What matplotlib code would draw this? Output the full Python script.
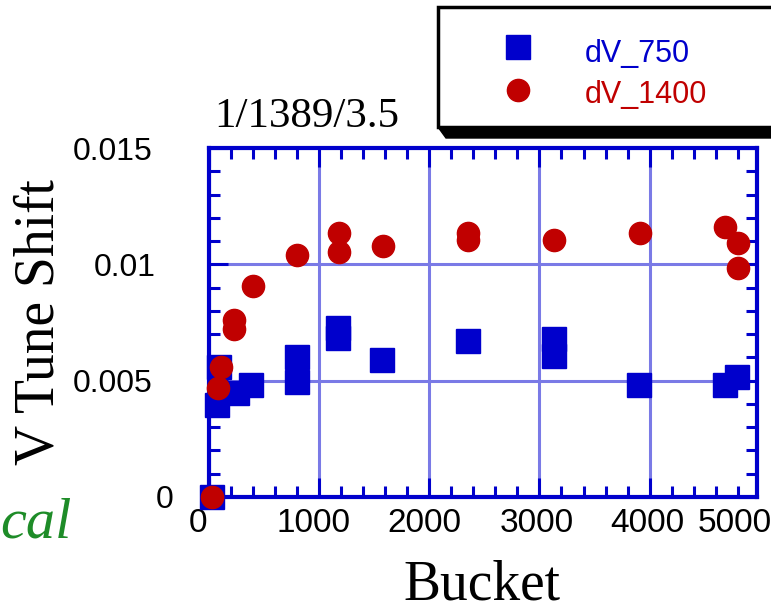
import numpy as np
import matplotlib
matplotlib.use("Agg")
import matplotlib.pyplot as plt
from matplotlib.ticker import MultipleLocator
from matplotlib.patches import Rectangle, Polygon
from matplotlib.lines import Line2D
import matplotlib.transforms as mtransforms

# data
bucket_750 = [23, 74, 258, 385, 95, 800, 800, 1171, 1171, 1570, 2350,
              3132, 3132, 3906, 4683, 4794]
dv_750 = [0.0, 0.00395, 0.00447, 0.00481, 0.00559, 0.00603, 0.00496, 0.00725,
          0.00682, 0.00589, 0.0067, 0.00679, 0.00606, 0.00481, 0.00481, 0.00514]

bucket_1400 = [23, 83, 111, 225, 225, 397, 800, 1177, 1177, 1576, 2355, 2355,
               3135, 3912, 4689, 4803, 4803]
dv_1400 = [0.0, 0.00467, 0.0056, 0.00761, 0.00721, 0.00907, 0.0104, 0.01133,
           0.01054, 0.01079, 0.01133, 0.01104, 0.01104, 0.01133, 0.01159,
           0.01093, 0.00985]

xticks = [0, 1000, 2000, 3000, 4000]
xticklabels = ["0", "1000", "2000", "3000", "4000"]
yticks = [0, 0.005, 0.01, 0.015]
yticklabels = ["0", "0.005", "0.01", "0.015"]

blue = "#0000cc"
red = "#c00000"
gridc = "#7a7ae6"
sans = "Liberation Sans"
serif = "Liberation Serif"

W, H = 771, 610
fig = plt.figure(figsize=(W / 100, H / 100), dpi=100)
ax = fig.add_axes([209 / W, 1 - 497 / H, (757 - 209) / W, (497 - 148) / H])

ax.grid(True, which="major", color=gridc, lw=2.2, zorder=0)
ax.set_axisbelow(True)

ax.plot(bucket_750, dv_750, ls="none", marker="s", ms=17, color=blue,
        mec=blue, zorder=3, clip_on=False)
ax.plot(bucket_1400, dv_1400, ls="none", marker="o", ms=16, color=red,
        mec=red, zorder=4, clip_on=False)

ax.set_xlim(0, 4975)
ax.set_ylim(0, 0.015)
ax.set_xticks(xticks, xticklabels)
ax.set_yticks(yticks, yticklabels)
ax.xaxis.set_minor_locator(MultipleLocator(200))
ax.yaxis.set_minor_locator(MultipleLocator(0.001))

for s in ax.spines.values():
    s.set_color(blue)
    s.set_linewidth(3)
ax.tick_params(which="both", direction="in", top=True, right=True,
               color=blue, width=2.2)
ax.tick_params(which="major", length=14)
ax.tick_params(which="minor", length=8)
ax.tick_params(axis="y", pad=41, labelsize=23)
ax.tick_params(axis="x", pad=8, labelsize=24)
for lab in ax.get_xticklabels() + ax.get_yticklabels():
    lab.set_fontfamily(sans)

# small shifts of some tick labels as in the original
def shift(lab, dx):
    off = mtransforms.ScaledTranslation(dx / 100, 0, fig.dpi_scale_trans)
    lab.set_transform(lab.get_transform() + off)

ylabs = ax.get_yticklabels()
shift(ylabs[0], 21)
shift(ylabs[2], 4)
for lab, dx in zip(ax.get_xticklabels(), [-11, -6, -5, -3, -2]):
    shift(lab, dx)
ax.text(4770, -8 / 72 * 100 / 349, "5000", transform=ax.get_xaxis_transform(),
        ha="center", va="top", fontsize=24, family=sans)

ax.text(0.01, 1 + 21 / 349, "1/1389/3.5", transform=ax.transAxes,
        family=serif, fontsize=31, va="baseline", ha="left")

fig.text(40 / W, 1 - 322 / H, "V Tune Shift", rotation=90, ha="center",
         va="center", family=serif, fontsize=40)
fig.text(482 / W, 1 - 599 / H, "Bucket", ha="center", va="baseline",
         family=serif, fontsize=40)
fig.text(0 / W, 1 - 538 / H, "cal", ha="left", va="baseline",
         family=serif, style="italic", fontsize=42, color="#1e8c28")

# legend box with drop shadow
ft = fig.transFigure
shadow = Polygon([(438 / W, 1 - 127 / H), (446 / W, 1 - 138 / H),
                  (800 / W, 1 - 138 / H), (800 / W, 1 - 127 / H)],
                 closed=True, transform=ft, color="black", zorder=5)
box = Rectangle((438 / W, 1 - 127 / H), 400 / W, 120 / H, transform=ft,
                facecolor="white", edgecolor="black", lw=2.5, zorder=6)
fig.add_artist(shadow)
fig.add_artist(box)
fig.add_artist(Line2D([518 / W], [1 - 47 / H], transform=ft, marker="s",
                      ms=17, color=blue, ls="none", zorder=7))
fig.add_artist(Line2D([518 / W], [1 - 90 / H], transform=ft, marker="o",
                      ms=16, color=red, ls="none", zorder=7))
fig.text(585 / W, 1 - 62 / H, "dV_750", color=blue, family=sans,
         fontsize=22, va="baseline", zorder=7)
fig.text(585 / W, 1 - 103 / H, "dV_1400", color=red, family=sans,
         fontsize=22, va="baseline", zorder=7)

fig.savefig("out.png", dpi=100)
